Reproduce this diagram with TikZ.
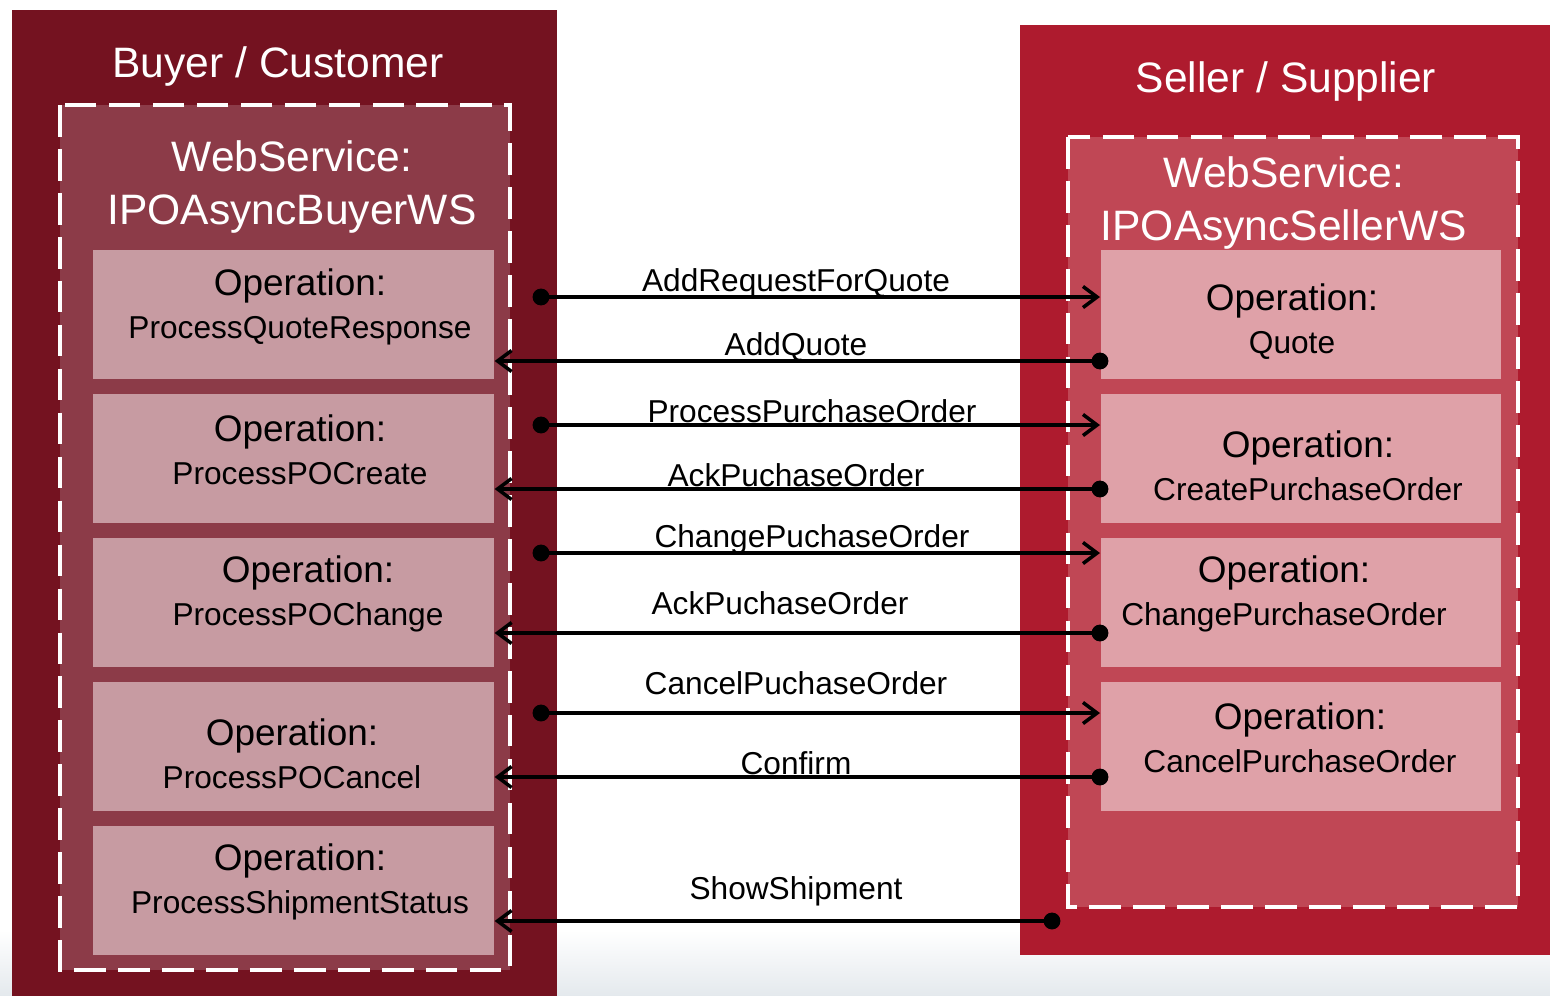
\documentclass[tikz,border=0pt]{standalone}
\usepackage{fontspec}
\setmainfont{Liberation Sans}
\usetikzlibrary{arrows.meta}
\definecolor{buyercol}{HTML}{741220}
\definecolor{buyerwscol}{HTML}{8C3B48}
\definecolor{buyeropcol}{HTML}{C79BA2}
\definecolor{sellercol}{HTML}{AE1B2E}
\definecolor{sellerwscol}{HTML}{C04755}
\definecolor{selleropcol}{HTML}{DFA1A8}
\definecolor{bgshade}{HTML}{E4E9ED}

\tikzset{
  wsbox/.style={draw=white, line width=1pt, dash pattern=on 9pt off 3.5pt},
  opbox/.style={anchor=north west, minimum height=1.29cm, inner sep=0pt},
  optext/.style={align=center, font=\fontsize{9}{12.2}\selectfont},
  headtext/.style={text=white, align=center, font=\fontsize{12.1}{14.8}\selectfont},
  msg/.style={line width=1.1pt, -{Straight Barb[length=4pt,width=6pt,line width=1pt]}},
  dot/.style={circle, fill=black, inner sep=0pt, minimum size=4.8pt},
  msglabel/.style={font=\fontsize{9}{11}\selectfont}
}
\newcommand{\opname}[1]{{\fontsize{10.5}{12.2}\selectfont Operation:}\\#1}

\begin{document}
\begin{tikzpicture}[x=0.01cm, y=-0.01cm]
    \useasboundingbox (0,0) rectangle (1550,996);

    % faint background at the bottom
    \shade[top color=white, bottom color=bgshade] (0,930) rectangle (1550,996);

    % Buyer side
    \fill[buyercol] (12,10) rectangle (557,996);
    \fill[buyerwscol] (60,105) rectangle (510,970);
    \draw[wsbox] (60,105) rectangle (510,970);
    \node[headtext] (buyer) at (278,66) {Buyer / Customer};
    \node[headtext] (buyerws) at (292,187) {WebService:\\IPOAsyncBuyerWS};

    % Buyer operations
    \foreach \n/\y in {1/249, 2/393, 3/537, 4/681, 5/825} {
        \node[opbox, fill=buyeropcol, minimum width=4.01cm] (lb\n) at (92,\y) {};
    }
    \node[optext] (lt1) at (300,307) {\opname{ProcessQuoteResponse}};
    \node[optext] (lt2) at (300,450) {\opname{ProcessPOCreate}};
    \node[optext] (lt3) at (308,594) {\opname{ProcessPOChange}};
    \node[optext] (lt4) at (292,754) {\opname{ProcessPOCancel}};
    \node[optext] (lt5) at (300,882) {\opname{ProcessShipmentStatus}};

    % Seller side
    \fill[sellercol] (1020,25) rectangle (1550,955);
    \fill[sellerwscol] (1068,137) rectangle (1518,907);
    \draw[wsbox] (1068,137) rectangle (1518,907);
    \node[headtext] (seller) at (1286,81) {Seller / Supplier};
    \node[headtext] (sellerws) at (1284,203) {WebService:\\IPOAsyncSellerWS};

    % Seller operations
    \foreach \n/\y in {1/249, 2/393, 3/537, 4/681} {
        \node[opbox, fill=selleropcol, minimum width=4.0cm] (rb\n) at (1100,\y) {};
    }
    \node[optext] (rt1) at (1292,322) {\opname{Quote}};
    \node[optext] (rt2) at (1308,466) {\opname{CreatePurchaseOrder}};
    \node[optext] (rt3) at (1284,594) {\opname{ChangePurchaseOrder}};
    \node[optext] (rt4) at (1300,738) {\opname{CancelPurchaseOrder}};

    % Message start points
    \foreach \n/\y in {1/297, 3/425, 5/553, 7/713} {
        \node[dot] (m\n) at (541,\y) {};
    }
    \foreach \n/\y in {2/361, 4/489, 6/633, 8/777} {
        \node[dot] (m\n) at (1100,\y) {};
    }
    \node[dot] (m9) at (1052,921) {};

    % Messages
    \draw[msg] (m1.center) -- (m1 -| rb1.west);
    \draw[msg] (m2.center) -- (m2 -| lb1.east);
    \draw[msg] (m3.center) -- (m3 -| rb2.west);
    \draw[msg] (m4.center) -- (m4 -| lb2.east);
    \draw[msg] (m5.center) -- (m5 -| rb3.west);
    \draw[msg] (m6.center) -- (m6 -| lb3.east);
    \draw[msg] (m7.center) -- (m7 -| rb4.west);
    \draw[msg] (m8.center) -- (m8 -| lb4.east);
    \draw[msg] (m9.center) -- (m9 -| lb5.east);

    % Message labels
    \node[msglabel] (l1) at (796,283) {AddRequestForQuote};
    \node[msglabel] (l2) at (796,347) {AddQuote};
    \node[msglabel] (l3) at (812,411) {ProcessPurchaseOrder};
    \node[msglabel] (l4) at (796,475) {AckPuchaseOrder};
    \node[msglabel] (l5) at (812,539) {ChangePuchaseOrder};
    \node[msglabel] (l6) at (780,603) {AckPuchaseOrder};
    \node[msglabel] (l7) at (796,683) {CancelPuchaseOrder};
    \node[msglabel] (l8) at (796,763) {Confirm};
    \node[msglabel] (l9) at (796,891) {ShowShipment};

\end{tikzpicture}
\end{document}
